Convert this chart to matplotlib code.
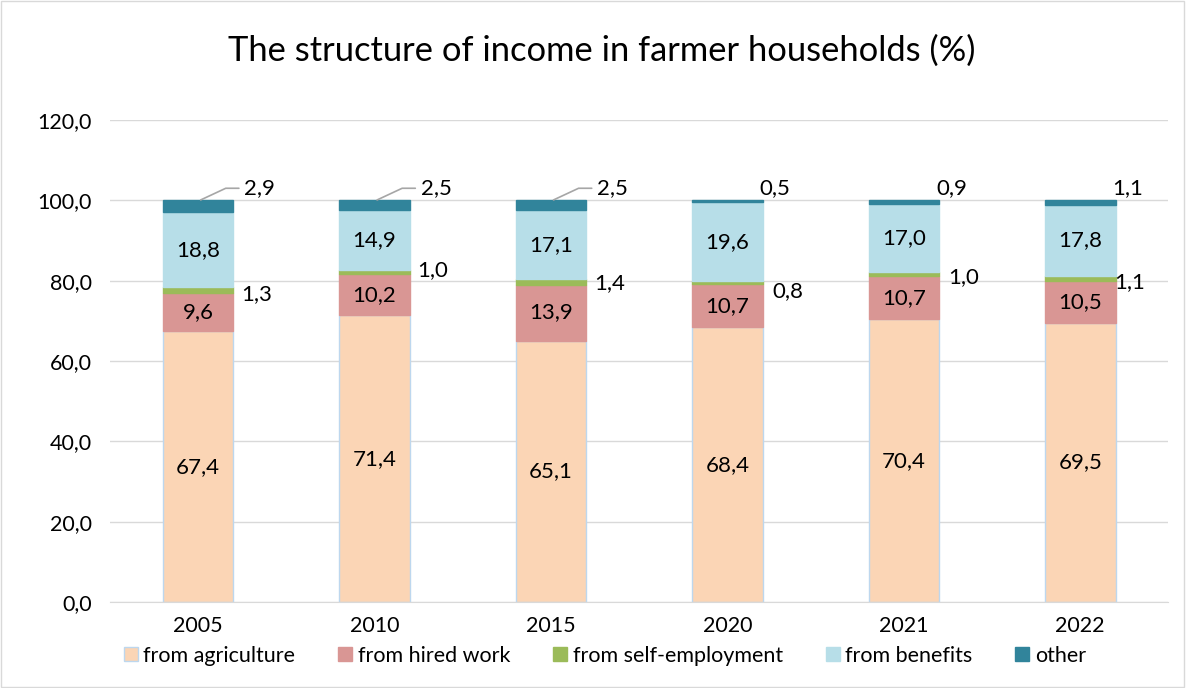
import matplotlib.pyplot as plt
from matplotlib.patches import Rectangle

years = ['2005', '2010', '2015', '2020', '2021', '2022']
agriculture = [67.4, 71.4, 65.1, 68.4, 70.4, 69.5]
hired_work = [9.6, 10.2, 13.9, 10.7, 10.7, 10.5]
self_employment = [1.3, 1.0, 1.4, 0.8, 1.0, 1.1]
benefits = [18.8, 14.9, 17.1, 19.6, 17.0, 17.8]
other = [2.9, 2.5, 2.5, 0.5, 0.9, 1.1]

names = ['from agriculture', 'from hired work', 'from self-employment', 'from benefits', 'other']
colors = ['#fbd5b5', '#d99694', '#9bbb59', '#b7dee8', '#31849b']

plt.rcParams['font.family'] = ['Lato', 'DejaVu Sans']


def fmt(v):
    return ('%.1f' % v).replace('.', ',')


fig = plt.figure(figsize=(11.86, 6.88), dpi=100)
ax = fig.add_axes([0.0927, 0.125, 0.8925, 0.7006])

x = list(range(len(years)))
series = [agriculture, hired_work, self_employment, benefits, other]
bottoms = [0.0] * len(years)
bars = []
for i, vals in enumerate(series):
    ec = '#bdd7ee' if i == 0 else colors[i]
    b = ax.bar(x, vals, 0.4, bottom=bottoms, color=colors[i], edgecolor=ec,
               linewidth=1.0, label=names[i], zorder=2)
    bars.append(b)
    # centred labels for the big segments
    if i in (0, 1, 3):
        for xi, v, bt in zip(x, vals, bottoms):
            ax.text(xi, bt + v / 2, fmt(v), ha='center', va='center', fontsize=16, zorder=3)
    bottoms = [bt + v for bt, v in zip(bottoms, vals)]

# self-employment labels to the right of the bars
base = [a + h for a, h in zip(agriculture, hired_work)]
se_dy = [-1.0, 0.5, -0.3, -2.0, -0.8, -0.8]
se_dx = [0.33, 0.33, 0.33, 0.34, 0.34, 0.28]
for xi, v, bt, dy, dx in zip(x, self_employment, base, se_dy, se_dx):
    ax.text(xi + dx, bt + v / 2 + dy, fmt(v), ha='center', va='center', fontsize=16)

# "other" labels above the bars
tops = [bt for bt in bottoms]
for xi, v, t in zip(x, other, tops):
    if v > 2:
        ax.annotate(fmt(v), xy=(xi, t - 0.2), xytext=(xi + 0.35, t + 3.0),
                    ha='center', va='center', fontsize=16,
                    arrowprops=dict(arrowstyle='-', color='#a6a6a6', lw=1.2,
                                    relpos=(0, 0.5),
                                    connectionstyle='angle,angleA=0,angleB=25,rad=0'))
    else:
        ax.text(xi + 0.27, t + 3.0, fmt(v), ha='center', va='center', fontsize=16)

ax.set_xlim(-0.5, 5.5)
ax.set_ylim(0, 120)
ax.set_yticks(range(0, 121, 20))
ax.set_yticklabels([fmt(v) for v in range(0, 121, 20)])
ax.set_xticks(x)
ax.set_xticklabels(years)
ax.tick_params(length=0, labelsize=15.5, colors='#000000')
ax.tick_params(axis='y', pad=13)
ax.tick_params(axis='x', pad=10)
ax.grid(axis='y', color='#d9d9d9', lw=1.0, zorder=0)
ax.set_axisbelow(True)
for s in ['top', 'right', 'left']:
    ax.spines[s].set_visible(False)
ax.spines['bottom'].set_color('#d9d9d9')

fig.text(0.507, 0.926, 'The structure of income in farmer households (%)',
         ha='center', va='center', fontsize=24.8)

fig.legend(handles=bars, labels=names, loc='center', ncol=5,
           bbox_to_anchor=(0.51, 0.047), frameon=False, fontsize=15.5,
           handlelength=0.65, handleheight=0.65, handletextpad=0.25,
           columnspacing=2.0, borderpad=0.0)

fig.patches.append(Rectangle((0.001, 0.001), 0.997, 0.997, transform=fig.transFigure,
                             fill=False, edgecolor='#d9d9d9', lw=1.0))

fig.savefig('out.png', dpi=100)
